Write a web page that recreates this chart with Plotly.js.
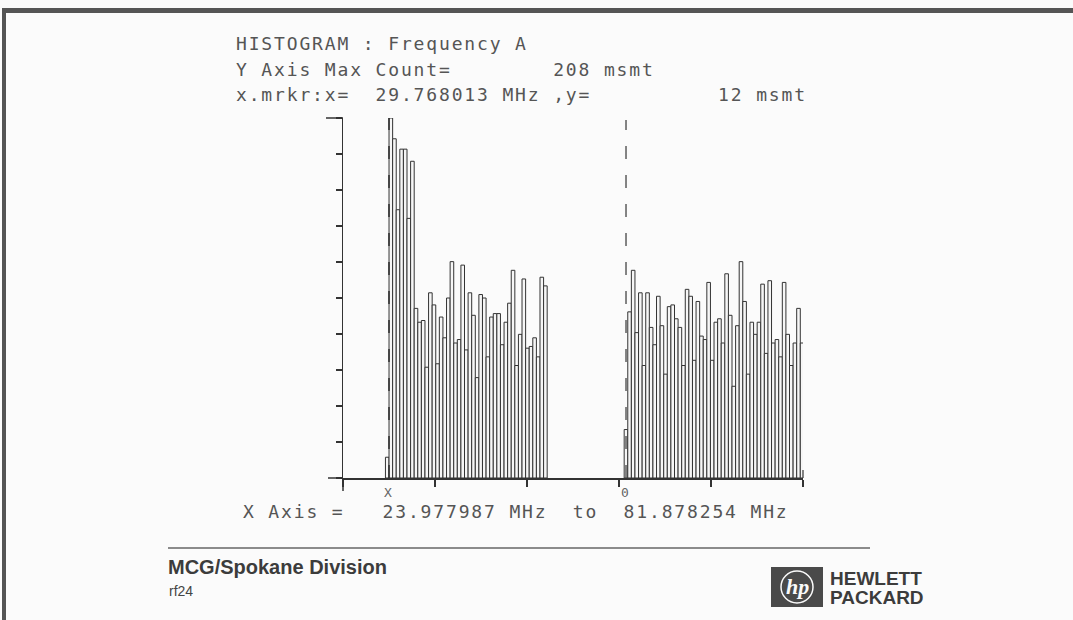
<!DOCTYPE html>
<html><head><meta charset="utf-8">
<script src="https://cdn.plot.ly/plotly-3.0.1.min.js"></script>
<style>
html,body{margin:0;padding:0;background:#fbfbfb;}
text[style*="DejaVu Sans Mono"]{letter-spacing:1.85px;}
</style>
</head><body>
<div id="chart" style="width:1073px;height:620px;"></div>
<script>
// ---- data ----
const leftCounts = [12, 208, 196, 155, 190, 190, 150, 183, 98, 90, 91, 64, 107, 100, 66, 93, 81, 104, 125, 78, 80, 123, 74, 107, 94, 58, 106, 104, 70, 93, 95, 95, 77, 90, 101, 120, 65, 83, 115, 75, 76, 81, 70, 116, 111];
const rightCounts = [28, 96, 120, 84, 107, 65, 107, 87, 77, 105, 88, 60, 99, 100, 92, 87, 65, 109, 105, 68, 102, 82, 80, 113, 68, 90, 92, 78, 118, 94, 53, 88, 125, 102, 60, 90, 83, 90, 112, 72, 114, 78, 80, 70, 113, 83, 65, 78, 98, 78];
const leftStartMHz = 29.32;     // lower edge of first bin, left group
const rightStartMHz = 59.37;    // lower edge of first bin, right group
const binWidthMHz = 0.4524;
const xAxisMinMHz = 23.977987;
const xAxisMaxMHz = 81.878254;
const yAxisMaxCount = 208;
const markerXMHz = 29.768013;
const markerYCount = 12;
const refMarkerMHz = 59.60;

const titleLine = "HISTOGRAM : Frequency A";
const maxLine = "Y Axis Max Count=        " + yAxisMaxCount + " msmt";
const markerLine = "x.mrkr:x=  " + markerXMHz.toFixed(6) + " MHz ,y=          " + markerYCount + " msmt";
const xAxisLine = "X Axis =   " + xAxisMinMHz.toFixed(6) + " MHz  to  " + xAxisMaxMHz.toFixed(6) + " MHz";

// ---- helpers ----
const W = 1073, H = 620;
const px = x => x / W;
const py = y => 1 - y / H;
const nb = s => s.replace(/ /g, "\u00A0");
const centers = (start, n) => Array.from({length: n}, (_, i) => start + (i + 0.5) * binWidthMHz);

const barStyle = {color: '#f6f6f6', line: {color: '#333', width: 1}};
const traces = [
  {type: 'bar', x: centers(leftStartMHz, leftCounts.length), y: leftCounts, width: binWidthMHz, marker: barStyle, hoverinfo: 'skip', showlegend: false},
  {type: 'bar', x: centers(rightStartMHz, rightCounts.length), y: rightCounts, width: binWidthMHz, marker: barStyle, hoverinfo: 'skip', showlegend: false}
];

const plotFont = {family: 'DejaVu Sans Mono', size: 18, color: '#555'};
const axisColor = '#333';
const grey = '#4a4a4a';

const shapes = [
  // page border (scan edges)
  {type: 'rect', xref: 'paper', yref: 'paper', x0: px(2), x1: px(W), y0: py(8), y1: py(13), fillcolor: '#555', line: {width: 0}},
  {type: 'rect', xref: 'paper', yref: 'paper', x0: px(2), x1: px(6), y0: py(8), y1: py(H), fillcolor: '#555', line: {width: 0}},
  // axis extras
  {type: 'line', xref: 'paper', yref: 'paper', x0: px(328), x1: px(343), y0: py(478), y1: py(478), line: {color: axisColor, width: 1.5}},
  {type: 'line', xref: 'paper', yref: 'paper', x0: px(343), x1: px(343), y0: py(478), y1: py(491), line: {color: axisColor, width: 1.5}},
  {type: 'line', xref: 'paper', yref: 'paper', x0: px(326), x1: px(343), y0: py(118), y1: py(118), line: {color: axisColor, width: 1.5}},
  {type: 'line', xref: 'paper', yref: 'paper', x0: px(803), x1: px(803), y0: py(470), y1: py(478), line: {color: axisColor, width: 1.2}},
  // markers
  {type: 'line', xref: 'x', yref: 'paper', x0: markerXMHz, x1: markerXMHz, y0: py(478), y1: py(118), line: {color: '#333', width: 1.6, dash: '13px,16px'}},
  {type: 'line', xref: 'x', yref: 'paper', x0: refMarkerMHz, x1: refMarkerMHz, y0: py(478), y1: py(120), line: {color: '#444', width: 1.3, dash: '13px,16px'}},
  // footer rule
  {type: 'line', xref: 'paper', yref: 'paper', x0: px(168), x1: px(870), y0: py(548), y1: py(548), line: {color: '#666', width: 1.5}},
  // HP logo
  {type: 'rect', xref: 'paper', yref: 'paper', x0: px(772), x1: px(822), y0: py(606), y1: py(568), fillcolor: grey, line: {color: grey, width: 2}},
  {type: 'circle', xref: 'paper', yref: 'paper', x0: px(781), x1: px(813), y0: py(603), y1: py(571), fillcolor: 'rgba(0,0,0,0)', line: {color: '#fafafa', width: 1.5}}
];

const annotations = [
  {text: nb(titleLine), x: px(234), y: py(44)},
  {text: nb(maxLine), x: px(234), y: py(69)},
  {text: nb(markerLine), x: px(234), y: py(94)},
  {text: nb(xAxisLine), x: px(241), y: py(511)}
].map(a => Object.assign(a, {xref: 'paper', yref: 'paper', xanchor: 'left', yanchor: 'middle', showarrow: false, font: plotFont}));

annotations.push(
  {text: 'X', xref: 'x', yref: 'paper', x: markerXMHz, y: py(492), xanchor: 'center', yanchor: 'middle', showarrow: false, font: {family: 'DejaVu Sans Mono', size: 13, color: '#666'}},
  {text: '0', xref: 'x', yref: 'paper', x: refMarkerMHz, y: py(492), xanchor: 'center', yanchor: 'middle', showarrow: false, font: {family: 'DejaVu Sans Mono', size: 13, color: '#666'}},
  {text: '<b>MCG/Spokane Division</b>', xref: 'paper', yref: 'paper', x: px(166), y: py(567), xanchor: 'left', yanchor: 'middle', showarrow: false, font: {family: 'Liberation Sans', size: 20, color: '#3c3c3c'}},
  {text: 'rf24', xref: 'paper', yref: 'paper', x: px(167), y: py(591), xanchor: 'left', yanchor: 'middle', showarrow: false, font: {family: 'Liberation Sans', size: 14, color: '#444'}},
  {text: '<b>HEWLETT</b>', xref: 'paper', yref: 'paper', x: px(828), y: py(578), xanchor: 'left', yanchor: 'middle', showarrow: false, font: {family: 'Liberation Sans', size: 19, color: '#3c3c3c'}},
  {text: '<b>PACKARD</b>', xref: 'paper', yref: 'paper', x: px(828), y: py(597), xanchor: 'left', yanchor: 'middle', showarrow: false, font: {family: 'Liberation Sans', size: 19, color: '#3c3c3c'}},
  {text: '<b><i>hp</i></b>', xref: 'paper', yref: 'paper', x: px(797), y: py(586), xanchor: 'center', yanchor: 'middle', showarrow: false, font: {family: 'Liberation Serif', size: 22, color: '#fafafa'}}
);

const layout = {
  width: W, height: H,
  margin: {l: 0, r: 0, t: 0, b: 0},
  paper_bgcolor: '#fbfbfb', plot_bgcolor: '#fbfbfb',
  showlegend: false,
  bargap: 0,
  xaxis: {
    domain: [px(343), px(803)], range: [xAxisMinMHz, xAxisMaxMHz],
    showgrid: false, zeroline: false, showline: true, linecolor: axisColor, linewidth: 1.5,
    ticks: 'outside', ticklen: 7, tickwidth: 1.2, tickcolor: axisColor,
    tick0: xAxisMinMHz, dtick: (xAxisMaxMHz - xAxisMinMHz) / 5, showticklabels: false, fixedrange: true
  },
  yaxis: {
    domain: [py(478), py(118)], range: [0, yAxisMaxCount],
    showgrid: false, zeroline: false, showline: true, linecolor: axisColor, linewidth: 1.5,
    ticks: 'outside', ticklen: 6, tickwidth: 1.5, tickcolor: axisColor,
    tick0: 0, dtick: yAxisMaxCount / 10, showticklabels: false, fixedrange: true
  },
  shapes: shapes,
  annotations: annotations
};

Plotly.newPlot('chart', traces, layout, {staticPlot: true, displayModeBar: false});
</script>
</body></html>
